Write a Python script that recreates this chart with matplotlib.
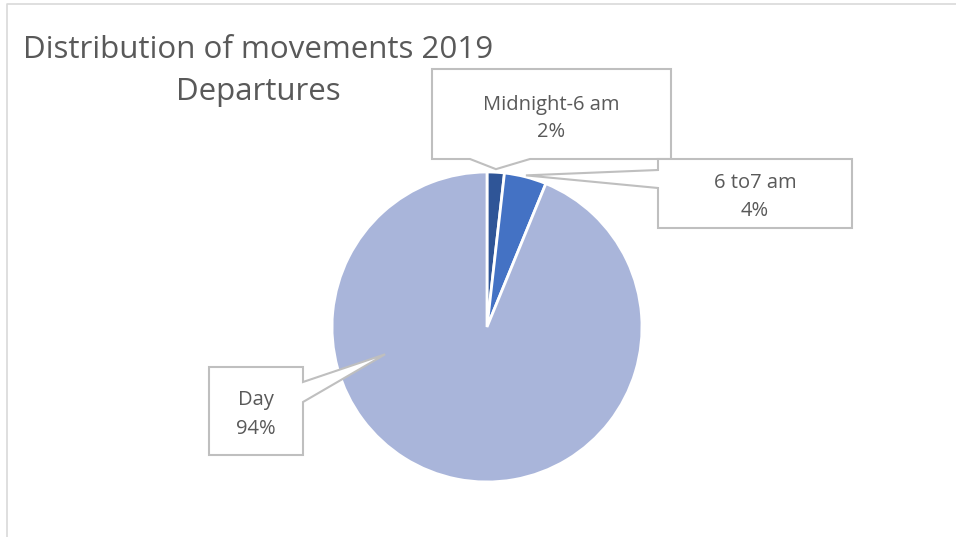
import numpy as np
import matplotlib.pyplot as plt
from matplotlib.patches import Polygon

# data
labels = ['Midnight-6 am', '6 to7 am', 'Day']
shares = [1.8, 4.4, 93.8]
pct_text = ['2%', '4%', '94%']
colors = ['#2F5597', '#4472C4', '#A9B5DA']

W, H = 956, 537
fig = plt.figure(figsize=(W / 100, H / 100), dpi=100)
fig.patch.set_facecolor('white')

# pie placement in pixels
cx, cy, R = 487, 327, 155
ax = fig.add_axes([(cx - R) / W, 1 - (cy + R) / H, 2 * R / W, 2 * R / H])
wedges, _ = ax.pie(shares, colors=colors, startangle=90, counterclock=False,
                   radius=1.0, wedgeprops=dict(edgecolor='white', linewidth=2))
ax.set_xlim(-1, 1)
ax.set_ylim(-1, 1)
ax.set_aspect('equal')
ax.axis('off')

# overlay in pixel coordinates
ov = fig.add_axes([0, 0, 1, 1], zorder=5)
ov.set_xlim(0, W)
ov.set_ylim(H, 0)
ov.axis('off')
ov.patch.set_alpha(0)

# chart frame (top and left)
ov.plot([7, 7, W], [H, 4, 4], color='#D9D9D9', lw=1.2)

txt = dict(ha='center', va='baseline', color='#595959', family='Open Sans', zorder=7)
ov.text(258, 58, 'Distribution of movements 2019', fontsize=22.5, **txt)
ov.text(258, 100, 'Departures', fontsize=22.5, **txt)


def tip(theta1, theta2, frac, rfac):
    # wedge angles (matplotlib deg) -> pixel point
    a = np.deg2rad(theta1 + (theta2 - theta1) * frac)
    return cx + rfac * R * np.cos(a), cy - rfac * R * np.sin(a)


t0 = tip(wedges[0].theta1, wedges[0].theta2, 0.5, 1.02)
t1 = tip(wedges[1].theta1, wedges[1].theta2, 0.5, 1.01)
t2 = (cx + 0.68 * R * np.cos(np.deg2rad(195)), cy - 0.68 * R * np.sin(np.deg2rad(195)))

box_style = dict(facecolor='white', edgecolor='#BFBFBF', linewidth=1.5, zorder=6)
fs = 14.5

# Midnight box, pointer from bottom edge
x0, x1, y0, y1 = 432, 671, 69, 159
ov.add_patch(Polygon([(x0, y0), (x1, y0), (x1, y1), (530, y1), t0, (470, y1), (x0, y1)], **box_style))
ov.text(551, 110, labels[0], fontsize=fs, **txt)
ov.text(551, 137, pct_text[0], fontsize=fs, **txt)

# 6 to 7 box, pointer from left edge
x0, x1, y0, y1 = 658, 852, 159, 228
ov.add_patch(Polygon([(x0, y0), (x1, y0), (x1, y1), (x0, y1), (x0, 188), t1, (x0, 170)], **box_style))
ov.text(755, 188, labels[1], fontsize=fs, **txt)
ov.text(755, 216, pct_text[1], fontsize=fs, **txt)

# Day box, pointer from right edge
x0, x1, y0, y1 = 209, 303, 367, 455
ov.add_patch(Polygon([(x0, y0), (x1, y0), (x1, 382), t2, (x1, 402), (x1, y1), (x0, y1)], **box_style))
ov.text(256, 405, labels[2], fontsize=fs, **txt)
ov.text(256, 434, pct_text[2], fontsize=fs, **txt)

fig.savefig('out.png', dpi=100)
